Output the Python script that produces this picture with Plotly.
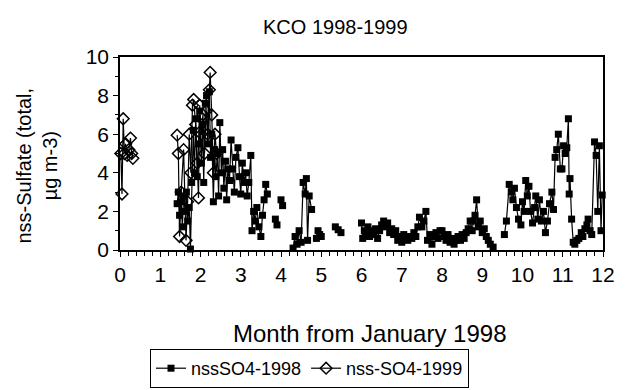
import plotly.graph_objects as go

# 1998 series (filled squares) - month from January, None = gap
x1998 = [1.42, 1.45, 1.48, 1.52, 1.55, 1.58, 1.62, 1.65, 1.68, 1.72, 1.75, 1.78, 1.82, 1.85, 1.88, 1.92,
         1.95, 1.98, 2.02, 2.05, 2.08, 2.12, 2.15, 2.18, 2.22, 2.25, 2.28, 2.32, 2.35, 2.38, 2.42, 2.45,
         2.48, 2.52, 2.55, 2.58, 2.62, 2.65, 2.68, 2.72, 2.76, 2.8, 2.84, 2.88, 2.93, 2.97, 3.0, 3.04,
         3.08, 3.12, 3.16, 3.2, 3.25, 3.28, 3.32, 3.36, 3.4, 3.45, 3.5, 3.54, 3.58, 3.62, 3.66, None,
         3.86, 3.9, None, 4.0, 4.04, None, 4.3, 4.35, 4.4, 4.45, 4.5, 4.55, 4.6, 4.63, 4.66, 4.7, 4.76,
         None, 4.88, 4.92, 4.96, 5.0, None, 5.35, 5.42, 5.49, None,
         6.0, 6.03, 6.07, 6.12, 6.16, 6.2, 6.25, 6.3, 6.35, 6.4, 6.45, 6.5, 6.55, 6.6, 6.65, 6.7, 6.75,
         6.8, 6.85, 6.9, 6.95, 7.0, 7.05, 7.1, 7.15, 7.2, 7.25, 7.3, 7.35, 7.4, 7.44, 7.5, 7.55, 7.6,
         7.64, 7.7, 7.75, 7.8, 7.85, 7.9, 7.95, 8.0, 8.05, 8.1, 8.15, 8.2, 8.25, 8.3, 8.35, 8.4, 8.46,
         8.5, 8.55, 8.6, 8.65, 8.7, 8.75, 8.78, 8.82, 8.86, 8.9, 8.95, 9.0, 9.05, 9.1, 9.15, 9.2, 9.27,
         None, 9.55, 9.6, 9.67, 9.72, 9.76, 9.8, 9.85, 9.9, 9.96, 10.0, 10.04, 10.08, 10.12, 10.16,
         10.2, 10.25, 10.3, 10.33, 10.38, 10.42, 10.47, 10.52, 10.57, 10.62, 10.67, 10.73, 10.77,
         10.81, 10.85, 10.89, 10.94, 10.98, 11.02, 11.06, 11.1, 11.14, 11.16, 11.18, 11.22, 11.26,
         11.3, 11.35, 11.4, 11.46, 11.5, 11.55, 11.6, 11.63, 11.68, 11.72, 11.79, 11.83, 11.87, 11.91,
         11.95, 11.98]
y1998 = [2.4, 3.0, 1.8, 2.5, 1.2, 2.8, 2.0, 3.0, 1.5, 2.2, 0.05, 3.5, 6.2, 4.0, 6.8, 3.8,
         5.5, 7.2, 4.5, 6.5, 3.5, 7.6, 8.0, 5.5, 8.2, 4.8, 6.0, 2.5, 5.2, 3.8, 5.0, 2.8,
         6.6, 4.0, 5.2, 3.2, 4.6, 2.6, 4.2, 3.6, 5.7, 4.2, 3.0, 4.8, 5.3, 3.8, 2.9, 4.5,
         3.5, 4.0, 2.8, 3.5, 4.9, 1.0, 2.0, 1.5, 2.2, 1.2, 0.7, 1.8, 2.6, 3.4, 2.9, None,
         1.6, 1.3, None, 2.6, 2.3, None, 0.1, 0.7, 0.3, 1.0, 0.4, 3.5, 2.9, 3.7, 0.5, 2.8, 2.1,
         None, 0.6, 1.0, 0.8, 0.7, None, 1.2, 1.05, 0.9, None,
         1.4, 0.6, 1.0, 0.8, 1.2, 0.7, 1.0, 0.8, 1.1, 0.6, 1.0, 1.3, 1.5, 1.2, 1.4, 0.9, 1.1,
         0.8, 1.0, 0.5, 0.7, 0.4, 0.8, 0.6, 0.5, 0.7, 0.6, 0.9, 0.7, 1.2, 1.7, 1.2, 1.5, 2.0,
         0.5, 0.8, 0.3, 0.7, 0.9, 0.6, 1.0, 1.0, 0.7, 0.5, 0.8, 0.4, 0.6, 0.3, 0.5, 0.7, 0.5,
         0.8, 0.6, 0.9, 1.1, 1.5, 1.0, 1.5, 1.8, 2.6, 1.2, 1.5, 0.9, 1.1, 0.7, 0.5, 0.3, 0.15,
         None, 0.8, 1.5, 3.4, 3.0, 2.6, 3.2, 2.2, 1.6, 1.3, 2.5, 2.0, 3.6, 2.8, 3.3,
         2.0, 1.4, 2.2, 2.8, 1.6, 2.6, 1.5, 2.0, 0.9, 1.5, 2.4, 3.0, 2.1,
         4.8, 5.2, 6.0, 4.2, 4.2, 5.4, 5.0, 5.3, 6.8, 2.9, 3.7, 1.6, 0.4,
         0.3, 0.5, 0.6, 0.9, 0.7, 1.1, 1.3, 1.6, 1.0, 0.8, 5.6, 4.9, 2.0, 5.4,
         1.0, 2.85]

# 1999 series (open diamonds)
x1999 = [0.02, 0.05, 0.08, 0.11, 0.14, 0.18, 0.22, 0.26, 0.29, 0.32, None,
         1.42, 1.45, 1.48, 1.52, 1.58, 1.64, 1.68, 1.72, 1.76, 1.8, 1.83, 1.88, 1.92, 1.95,
         1.98, 2.02, 2.06, 2.1, 2.14, 2.18, 2.22, 2.24, 2.28, 2.32, 2.36, 2.4]
y1999 = [5.0, 2.9, 6.8, 5.0, 5.5, 4.9, 5.2, 5.8, 5.0, 4.75, None,
         5.95, 5.0, 0.7, 3.0, 5.2, 0.5, 2.5, 6.0, 4.0, 7.5, 7.8, 6.5, 4.5, 2.7,
         7.5, 6.0, 7.0, 5.0, 7.2, 6.0, 8.3, 9.2, 7.0, 4.0, 6.0, 5.0]

x_ticks = list(range(0, 13))
y_ticks = [0, 2, 4, 6, 8, 10]

FONT = "Liberation Sans, Arial, sans-serif"

fig = go.Figure()
fig.add_trace(go.Scatter(
    x=x1998, y=y1998, mode="lines+markers", name="nssSO4-1998",
    line=dict(color="black", width=1.2),
    marker=dict(symbol="square", size=7, color="black"),
    connectgaps=False, cliponaxis=False,
))
fig.add_trace(go.Scatter(
    x=x1999, y=y1999, mode="lines+markers", name="nss-SO4-1999",
    line=dict(color="black", width=1.2),
    marker=dict(symbol="diamond-open", size=9, color="black", line=dict(width=1.5)),
    connectgaps=False, cliponaxis=False,
))

fig.update_layout(
    width=627, height=390,
    margin=dict(l=120, r=15, t=57, b=140),
    paper_bgcolor="white", plot_bgcolor="white",
    font=dict(family=FONT, size=20, color="black"),
    showlegend=True,
    legend=dict(
        orientation="h", xref="container", yref="container",
        x=150 / 627, xanchor="left", y=2 / 390, yanchor="bottom",
        bordercolor="black", borderwidth=1, font=dict(size=18),
        itemwidth=30, tracegroupgap=0,
    ),
    annotations=[
        dict(text="KCO 1998-1999", x=0.447, y=1.0, xref="paper", yref="paper",
             xanchor="center", yanchor="bottom", yshift=17, showarrow=False,
             font=dict(size=20)),
        dict(text="Month from January 1998", x=0.516, y=0, xref="paper", yref="paper",
             xanchor="center", yanchor="top", yshift=-68, showarrow=False,
             font=dict(size=24)),
        dict(text="nss-Sulfate (total,<br>µg m-3)", x=0, y=0.5, xref="paper", yref="paper",
             xanchor="center", yanchor="middle", xshift=-84, yshift=-12, showarrow=False,
             textangle=-90, font=dict(size=20)),
    ],
)
fig.update_xaxes(
    range=[0, 12], tickvals=x_ticks, ticktext=[str(v) for v in x_ticks],
    showgrid=False, zeroline=False,
    showline=True, linecolor="black", linewidth=1.5, mirror=True,
    ticks="outside", ticklen=5, tickcolor="black", tickwidth=1,
    minor=dict(dtick=0.2, ticks="outside", ticklen=4, tickcolor="black", tickwidth=1),
    tickfont=dict(size=21),
)
fig.update_yaxes(
    range=[0, 10], tickvals=y_ticks,
    showgrid=False, zeroline=False,
    showline=True, linecolor="black", linewidth=1.5, mirror=True,
    ticks="outside", ticklen=5, tickcolor="black", tickwidth=1,
    minor=dict(dtick=1, ticks="outside", ticklen=3, tickcolor="black", tickwidth=1),
    tickfont=dict(size=21),
)

fig.write_html("out.html")
